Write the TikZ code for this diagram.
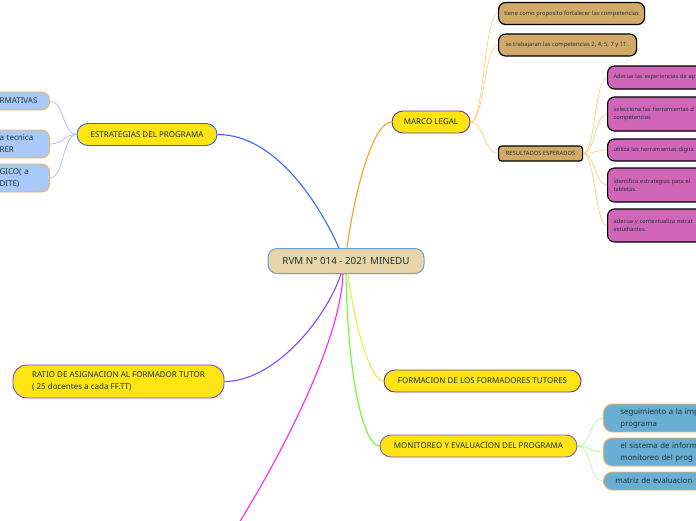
\documentclass[tikz,border=0pt]{standalone}
\usepackage{fontspec}
\setmainfont{Noto Sans}
\usetikzlibrary{calc}
\definecolor{txt}{HTML}{1C3535}
\definecolor{roottan}{HTML}{E8D5A9}
\definecolor{rootb}{HTML}{6AA0D0}
\definecolor{topy}{HTML}{FFE414}
\definecolor{purpb}{HTML}{7030A0}
\definecolor{violb}{HTML}{7B42E6}
\definecolor{estrb}{HTML}{2F6BF0}
\definecolor{lblue}{HTML}{A9C9FA}
\definecolor{lorange}{HTML}{F4B350}
\definecolor{tanbx}{HTML}{D2AA68}
\definecolor{pinkbx}{HTML}{D166B8}
\definecolor{steel}{HTML}{6AAED3}
\definecolor{cblue}{HTML}{2F6BFF}
\definecolor{corange}{HTML}{FF9F1C}
\definecolor{cviolet}{HTML}{7B4BFF}
\definecolor{cmagenta}{HTML}{FF22FF}
\definecolor{cyell}{HTML}{DDF000}
\definecolor{cgreen}{HTML}{66FF33}
\definecolor{clblue}{HTML}{8FB4FF}
\definecolor{clorange}{HTML}{FFC870}
\definecolor{clgreen}{HTML}{99FF88}
\begin{document}
\begin{tikzpicture}[x=1pt,y=-1pt,
  every node/.style={inner sep=0pt, text=txt},
  rootbox/.style={draw=rootb, fill=roottan, line width=1pt, rounded corners=9pt,
    minimum width=156pt, minimum height=25pt, font=\fontsize{9.8}{11}\selectfont\bfseries},
  topic/.style={fill=topy, line width=0.9pt, rounded corners=11pt, minimum height=22pt,
    font=\fontsize{8}{12}\selectfont},
  lbox/.style={fill=lblue, draw=lorange, line width=0.9pt, rounded corners=8pt,
    font=\fontsize{8}{12}\selectfont, anchor=east, text width=42pt, align=left, inner xsep=8pt},
  tanbox/.style={fill=tanbx, draw=black, line width=1.2pt, rounded corners=7pt,
    font=\fontsize{5.8}{7}\selectfont, minimum height=22pt, anchor=west},
  pinkbox/.style={fill=pinkbx, draw=black, line width=1.2pt, rounded corners=7pt,
    font=\fontsize{5.7}{8}\selectfont, anchor=west, text width=160pt, align=left, inner xsep=6pt},
  sbox/.style={fill=steel, draw=lorange, line width=0.9pt, rounded corners=9pt,
    font=\fontsize{7.8}{12}\selectfont, anchor=west, text width=160pt, align=left},
  conn/.style={line width=1.1pt},
  sub/.style={line width=0.6pt}
]
\useasboundingbox (0,0) rectangle (696,520);
\clip (0,0) rectangle (696,520);

\node[rootbox] (root) at (346,261) {RVM N° 014 - 2021 MINEDU};
\node[topic, draw=estrb, minimum width=140pt] (estr) at (147,134.5) {ESTRATEGIAS DEL PROGRAMA};
\node[topic, draw=purpb, minimum width=78pt] (marco) at (431,122) {MARCO LEGAL};
\node[topic, draw=violb, minimum width=211pt, minimum height=33pt, rounded corners=14pt,
  align=left] (ratio) at (118.5,381.5)
  {RATIO DE ASIGNACION AL FORMADOR TUTOR\\( 25 docentes a cada FF.TT)};
\node[topic, draw=purpb, minimum width=197pt] (form) at (482.5,381) {FORMACION DE LOS FORMADORES TUTORES};
\node[topic, draw=purpb!80, minimum width=197pt] (moni) at (478.5,446) {MONITOREO Y EVALUACION DEL PROGRAMA};
\coordinate (magend) at (228,540);

% left children of ESTRATEGIAS
\node[lbox, minimum height=18pt] (e1) at (50,101) {RMATIVAS};
\node[lbox, minimum height=28pt] (e2) at (50,144) {a tecnica\\RER};
\node[lbox, minimum height=28pt] (e3) at (50,178) {GICO( a\\DITE)};

% MARCO LEGAL children
\node[tanbox, minimum width=146pt] (m1) at (498,13.5) {tiene como proposito fortalecer las competencias};
\node[tanbox, minimum width=138pt] (m2) at (498,45) {se trabajaran las competencias 2, 4, 5, 7 y 11 .};
\node[tanbox, minimum width=84pt, minimum height=15pt, rounded corners=3pt] (res) at (498,153.5) {RESULTADOS ESPERADOS};

% RESULTADOS children
\node[pinkbox, minimum height=23pt] (p1) at (607,77.5) {Adecua las experiencias de ap};
\node[pinkbox, minimum height=34pt] (p2) at (607,114) {selecciona las herramientas d\\competencias};
\node[pinkbox, minimum height=22pt] (p3) at (607,150) {utiliza las herramientas digita};
\node[pinkbox, minimum height=34pt] (p4) at (607,185) {identifica estrategias para el\\tabletas.};
\node[pinkbox, minimum height=33pt] (p5) at (607,225.5) {adecua y contextualiza estrat\\estudiantes.};

% MONITOREO children
\node[sbox, minimum height=28pt, inner xsep=17pt] (s1) at (603,418) {seguimiento a la imp\\programa};
\node[sbox, minimum height=28pt, inner xsep=17pt] (s2) at (603,452) {el sistema de inform\\monitoreo del prog};
\node[sbox, minimum height=18pt, inner xsep=12pt] (s3) at (603,481) {matriz de evaluacion};

% connectors from root
\draw[conn, cblue] ($(root.north)+(-7,0)$) .. controls +(-18,-40) and +(60,0) .. (estr.east);
\draw[conn, corange] ($(root.north)+(1,0)$) .. controls +(8,-60) and +(-18,0) .. (marco.west);
\draw[conn, cviolet] ($(root.south)+(-5,0)$) .. controls +(-15,45) and +(50,0) .. (ratio.east);
\draw[conn, cmagenta] ($(root.south)+(-3,0)$) .. controls +(-3,80) and +(30,-45) .. (magend);
\draw[conn, cyell, line width=0.8pt] ($(root.south)+(2,0)$) .. controls +(8,60) and +(-12,0) .. (form.west);
\draw[conn, cgreen] ($(root.south)+(0,0)$) .. controls +(2,110) and +(-15,0) .. (moni.west);

% sub connectors
\foreach \n in {e1,e2,e3}
  \draw[sub, clblue] (estr.west) .. controls +(-14,0) and +(14,0) .. (\n.east);
\foreach \n in {m1,m2,res}
  \draw[sub, clorange] (marco.east) .. controls +(14,0) and +(-14,0) .. (\n.west);
\foreach \n in {p1,p2,p3,p4,p5}
  \draw[sub, clorange] (res.east) .. controls +(12,0) and +(-12,0) .. (\n.west);
\foreach \n in {s1,s2,s3}
  \draw[sub, clgreen] (moni.east) .. controls +(14,0) and +(-14,0) .. (\n.west);
\end{tikzpicture}
\end{document}
